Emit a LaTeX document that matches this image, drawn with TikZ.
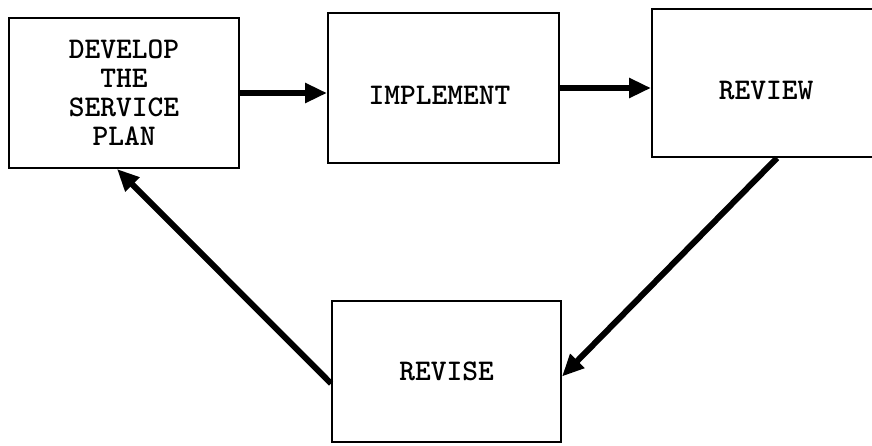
\documentclass[tikz,border=0pt]{standalone}
\usepackage{fontspec}
\newfontfamily\typerfont{lmmonolt10-bold.otf}
\usetikzlibrary{arrows.meta}
\begin{document}
\begin{tikzpicture}[x=1pt, y=-1pt,
    stage/.style={draw, rectangle, line width=2pt, inner sep=0pt, align=center,
        font=\fontsize{30}{29}\selectfont\typerfont},
    flow/.style={line width=6pt, -{Triangle[length=22pt, width=19pt]}}]
    \useasboundingbox (0,0) rectangle (872,445);
    \clip (0,0) rectangle (872,445);

    % Planning stage
    \node[stage, minimum width=230pt, minimum height=150pt] (develop) at (124, 93) {DEVELOP\\THE\\SERVICE\\PLAN\hspace{8pt}};

    % Doing stage
    \node[stage, minimum width=231pt, minimum height=150pt, text height=32pt] (implement) at (443.5, 88) {IMPLEMENT\hspace{8pt}};

    % Checking stage (runs off the right edge)
    \node[stage, minimum width=238pt, minimum height=148pt, text height=34pt] (review) at (771, 83) {REVIEW\hspace{10pt}};

    % Acting stage
    \node[stage, minimum width=229pt, minimum height=141pt] (revise) at (446.5, 371.5) {REVISE};

    % Connections
    \draw[flow] (develop.east) -- (develop.east -| implement.west);
    \draw[flow] (implement.east) -- (implement.east -| review.west);
    \draw[flow] ([xshift=6pt]review.south) -- ([yshift=-5pt]revise.east);
    \draw[flow] ([yshift=-12pt]revise.west) -- ([xshift=-7pt]develop.south);

\end{tikzpicture}
\end{document}
